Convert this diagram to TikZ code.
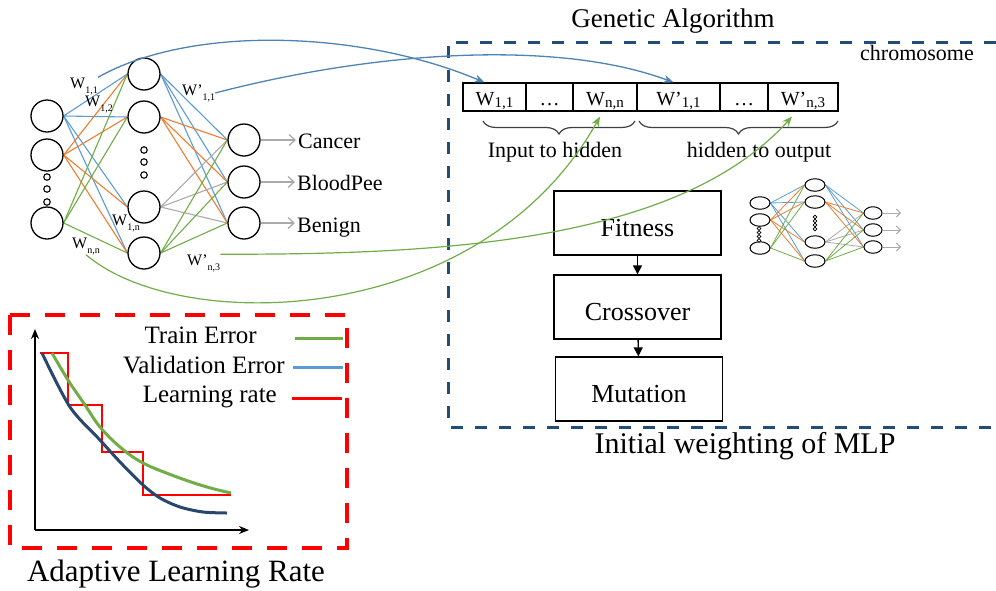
\documentclass[tikz,border=0pt]{standalone}
\usepackage{fontspec}
\setmainfont{Liberation Serif}
\usepackage{tikz}
\usetikzlibrary{shapes,arrows.meta,backgrounds,decorations.pathreplacing}
\definecolor{nnblue}{RGB}{91,155,213}
\definecolor{nnorange}{RGB}{237,125,49}
\definecolor{nngreen}{RGB}{112,173,71}
\definecolor{nngray}{RGB}{170,170,170}
\definecolor{gablue}{RGB}{31,78,121}
\definecolor{valblue}{RGB}{40,70,110}
\newcommand{\fsz}[1]{\fontsize{#1}{#1}\selectfont}
\newcommand{\wlab}[2]{#1\raisebox{-5pt}{\fsz{10}#2}}
\newcommand{\wcell}[2]{#1\raisebox{-2pt}{\fsz{15}#2}}
\tikzstyle{neuron}=[
  draw,circle,line width=1.3,minimum size=32pt,inner sep=0pt,fill=white
]
\tikzstyle{dotnode}=[
  draw,circle,line width=1.1,minimum size=6.5pt,inner sep=0pt,fill=white
]
\tikzstyle{sneuron}=[
  draw,ellipse,line width=1,minimum width=20pt,minimum height=12.5pt,inner sep=0pt,fill=white
]
\tikzstyle{sdot}=[
  draw,circle,line width=0.7,minimum size=3.6pt,inner sep=0pt,fill=white
]
\tikzstyle{txt}=[
  inner sep=0pt
]
\tikzstyle{cell}=[
  draw,line width=1.2,minimum height=28pt,inner sep=0pt,text height=16pt,text depth=0pt,font=\fsz{20}
]
\tikzstyle{gabox}=[
  draw,line width=1.3,minimum width=167pt,minimum height=64pt,text height=26pt,text depth=0pt,font=\fsz{26}
]
\tikzset{
  blueedge/.style={nnblue, line width=1.1},
  orangeedge/.style={nnorange, line width=1.1},
  greenedge/.style={nngreen, line width=1.1},
  grayedge/.style={nngray, line width=1.1},
  outarrow/.style={nngray, line width=1.3, -{Straight Barb[length=6pt,width=11pt]}, shorten >=2pt},
  blink/.style={nnblue!85!black, line width=1.3, -{Stealth[length=10pt,width=8pt]}},
  glink/.style={nngreen, line width=1.2, -{Stealth[length=10pt,width=8pt]}},
  flow/.style={line width=1.3, -{Triangle[length=9pt,width=9pt]}},
  brace/.style={decorate, decoration={brace, mirror, amplitude=13pt}, line width=1.2, black!75},
  gadash/.style={gablue, line width=3, dash pattern=on 12pt off 12pt},
  lrdash/.style={red, line width=4, dash pattern=on 20pt off 15pt},
  axis/.style={line width=1.3, -{Stealth[length=10pt,width=8pt]}},
}

\begin{document}
\begin{tikzpicture}[x=1pt,y=-1pt]
  \useasboundingbox (0,0) rectangle (996,590);

  % MLP
  \node (i1) at (47,116) [neuron] {};
  \node (i2) at (47,155) [neuron] {};
  \node (i3) at (47,223) [neuron] {};
  \node (id1) at (47,177) [dotnode] {};
  \node (id2) at (47,189) [dotnode] {};
  \node (id3) at (47,202) [dotnode] {};
  \node (h1) at (144,74) [neuron] {};
  \node (h2) at (144,117) [neuron] {};
  \node (h3) at (144,207) [neuron] {};
  \node (h4) at (144,253) [neuron] {};
  \node (hd1) at (144,150) [dotnode] {};
  \node (hd2) at (144,162) [dotnode] {};
  \node (hd3) at (144,175) [dotnode] {};
  \node (o1) at (244,140) [neuron] {};
  \node (o2) at (244,182) [neuron] {};
  \node (o3) at (244,223) [neuron] {};
  \node (cancer) at (298,148) [txt, anchor=base west, font=\fsz{22}] {Cancer};
  \node (blood) at (297,190) [txt, anchor=base west, font=\fsz{22}] {BloodPee};
  \node (benign) at (297,232) [txt, anchor=base west, font=\fsz{22}] {Benign};
  \node (lw11) at (70,88) [txt, anchor=base west, font=\fsz{16}] {\wlab{W}{1,1}};
  \node (lw12) at (85,106) [txt, anchor=base west, font=\fsz{16}] {\wlab{W}{1,2}};
  \node (lw1n) at (112,225) [txt, anchor=base west, font=\fsz{16}] {\wlab{W}{1,n}};
  \node (lwnn) at (72,248) [txt, anchor=base west, font=\fsz{16}] {\wlab{W}{n,n}};
  \node (lwp11) at (182,95) [txt, anchor=base west, font=\fsz{16}] {\wlab{W'}{1,1}};
  \node (lwpn3) at (187,265) [txt, anchor=base west, font=\fsz{16}] {\wlab{W'}{n,3}};

  \begin{scope}[on background layer]
    \draw [blueedge] (i1.east) edge (h1.west) edge (h2.west) edge (h3.west) edge (h4.west);
    \draw [orangeedge] (i2.east) edge (h1.west) edge (h2.west) edge (h3.west) edge (h4.west);
    \draw [greenedge] (i3.east) edge (h1.west) edge (h2.west) edge (h4.west);
    \draw [blueedge] (h1.east) edge (o1.west) edge (o2.west) edge (o3.west);
    \draw [orangeedge] (h2.east) edge (o1.west) edge (o2.west) edge (o3.west);
    \draw [grayedge] (h3.east) edge (o1.west) edge (o2.west) edge (o3.west);
    \draw [greenedge] (h4.east) edge (o1.west) edge (o2.west) edge (o3.west);
  \end{scope}
  \draw [outarrow] (o1.east) -- (o1.east -| cancer.west);
  \draw [outarrow] (o2.east) -- (o2.east -| blood.west);
  \draw [outarrow] (o3.east) -- (o3.east -| benign.west);

  % genetic algorithm
  \node (title) at (673,27) [txt, anchor=base, font=\fsz{27}] {Genetic Algorithm};
  \draw [gadash] (996,42) -- (448,42) -- (448,427) -- (996,427);
  \node (chrom) at (917,60) [txt, anchor=base, font=\fsz{22}] {chromosome};
  \node (c1) at (494.5,97) [cell, minimum width=63pt] {\wcell{W}{1,1}};
  \node (c2) at (549.5,97) [cell, minimum width=47pt] {\ldots};
  \node (c3) at (605,97) [cell, minimum width=64pt] {\wcell{W}{n,n}};
  \node (c4) at (678.5,97) [cell, minimum width=83pt] {\wcell{W'}{1,1}};
  \node (c5) at (744,97) [cell, minimum width=48pt] {\ldots};
  \node (c6) at (803,97) [cell, minimum width=70pt] {\wcell{W'}{n,3}};
  \draw [brace] (483,121) -- (635,121);
  \draw [brace] (639,121) -- (838,121);
  \node (in2hid) at (555,157) [txt, anchor=base, font=\fsz{22}] {Input to hidden};
  \node (hid2out) at (759,157) [txt, anchor=base, font=\fsz{22}] {hidden to output};
  \node (fit) at (637.5,223) [gabox] {Fitness};
  \node (cross) at (637.5,307) [gabox] {Crossover};
  \node (mut) at (639,389) [gabox] {Mutation};
  \draw [flow] (fit) -- (cross);
  \draw [flow] (cross) -- (mut);
  \node (mlp) at (745,453) [txt, anchor=base, font=\fsz{30}] {Initial weighting of MLP};

  % small MLP
  \node (si1) at (760,203) [sneuron] {};
  \node (si2) at (760,220) [sneuron] {};
  \node (si3) at (760,248) [sneuron] {};
  \node (sid1) at (759,228.5) [sdot] {};
  \node (sid2) at (759,232.5) [sdot] {};
  \node (sid3) at (759,236.5) [sdot] {};
  \node (sid4) at (759,240.5) [sdot] {};
  \node (sh1) at (815,185) [sneuron] {};
  \node (sh2) at (815,202) [sneuron] {};
  \node (sh3) at (815,242) [sneuron] {};
  \node (sh4) at (815,261) [sneuron] {};
  \node (shd1) at (815,217) [sdot] {};
  \node (shd2) at (815,221) [sdot] {};
  \node (shd3) at (815,225) [sdot] {};
  \node (shd4) at (815,229) [sdot] {};
  \node (so1) at (873,213) [sneuron, minimum width=18pt] {};
  \node (so2) at (873,230) [sneuron, minimum width=18pt] {};
  \node (so3) at (873,247) [sneuron, minimum width=18pt] {};
  \coordinate (se1) at (903,213);
  \coordinate (se2) at (903,230);
  \coordinate (se3) at (903,247);
  \begin{scope}[on background layer, line width=0.8]
    \draw [blueedge, line width=0.8] (si1.east) edge (sh1.west) edge (sh2.west) edge (sh3.west) edge (sh4.west);
    \draw [orangeedge, line width=0.8] (si2.east) edge (sh1.west) edge (sh2.west) edge (sh3.west) edge (sh4.west);
    \draw [greenedge, line width=0.8] (si3.east) edge (sh1.west) edge (sh2.west) edge (sh4.west);
    \draw [blueedge, line width=0.8] (sh1.east) edge (so1.west) edge (so2.west) edge (so3.west);
    \draw [orangeedge, line width=0.8] (sh2.east) edge (so1.west) edge (so2.west) edge (so3.west);
    \draw [grayedge, line width=0.8] (sh3.east) edge (so1.west) edge (so2.west) edge (so3.west);
    \draw [greenedge, line width=0.8] (sh4.east) edge (so1.west) edge (so2.west) edge (so3.west);
  \end{scope}
  \draw [outarrow, line width=1, -{Straight Barb[length=4pt,width=8pt]}] (so1.east) -- (se1);
  \draw [outarrow, line width=1, -{Straight Barb[length=4pt,width=8pt]}] (so2.east) -- (se2);
  \draw [outarrow, line width=1, -{Straight Barb[length=4pt,width=8pt]}] (so3.east) -- (se3);

  % weights into the chromosome
  \draw [blink] (lw11.north east) .. controls (190,25) and (360,30) .. ([xshift=-10pt]c1.north);
  \draw [blink] (lwp11.east) .. controls (380,50) and (560,40) .. ([xshift=-5pt]c4.north);
  \draw [glink] (lwnn.south) .. controls (180,335) and (480,330) .. ([xshift=-5pt,yshift=-5pt]c3.south);
  \draw [glink] (lwpn3.north east) .. controls (450,255) and (680,240) .. ([xshift=-11pt,yshift=-5pt]c6.south);

  % adaptive learning rate
  \draw [lrdash] (10,315) rectangle (347,548);
  \coordinate (orig) at (35,530);
  \draw [axis] (orig) -- (35,329);
  \draw [axis] (orig) -- (249,530);
  \draw [red, line width=2.5] (40,353) -- (68,353) -- (68,405) -- (102,405) -- (102,452) -- (143,452) -- (143,495) -- (231,495);
  \draw [nngreen, line width=3] plot [smooth, tension=0.6] coordinates {(52,353) (68,380) (85,405) (100,427) (120,447) (143,463) (177,477) (207,487) (231,493)};
  \draw [valblue, line width=3] plot [smooth, tension=0.5] coordinates {(42,353) (70,407) (100,440) (120,462) (143,485) (160,498) (180,507) (203,512) (227,513)};
  \node (ltrain) at (257,343) [txt, anchor=base east, font=\fsz{25}] {Train Error};
  \node (lval) at (285,373) [txt, anchor=base east, font=\fsz{25}] {Validation Error};
  \node (lrate) at (277,402) [txt, anchor=base east, font=\fsz{25}] {Learning rate};
  \draw [nngreen, line width=3] (295,338) -- (343,338);
  \draw [nnblue, line width=3] (293,367) -- (343,367);
  \draw [red, line width=3] (292,398) -- (342,398);
  \node (alr) at (176,581) [txt, anchor=base, font=\fsz{31}] {Adaptive Learning Rate};
\end{tikzpicture}
\end{document}
